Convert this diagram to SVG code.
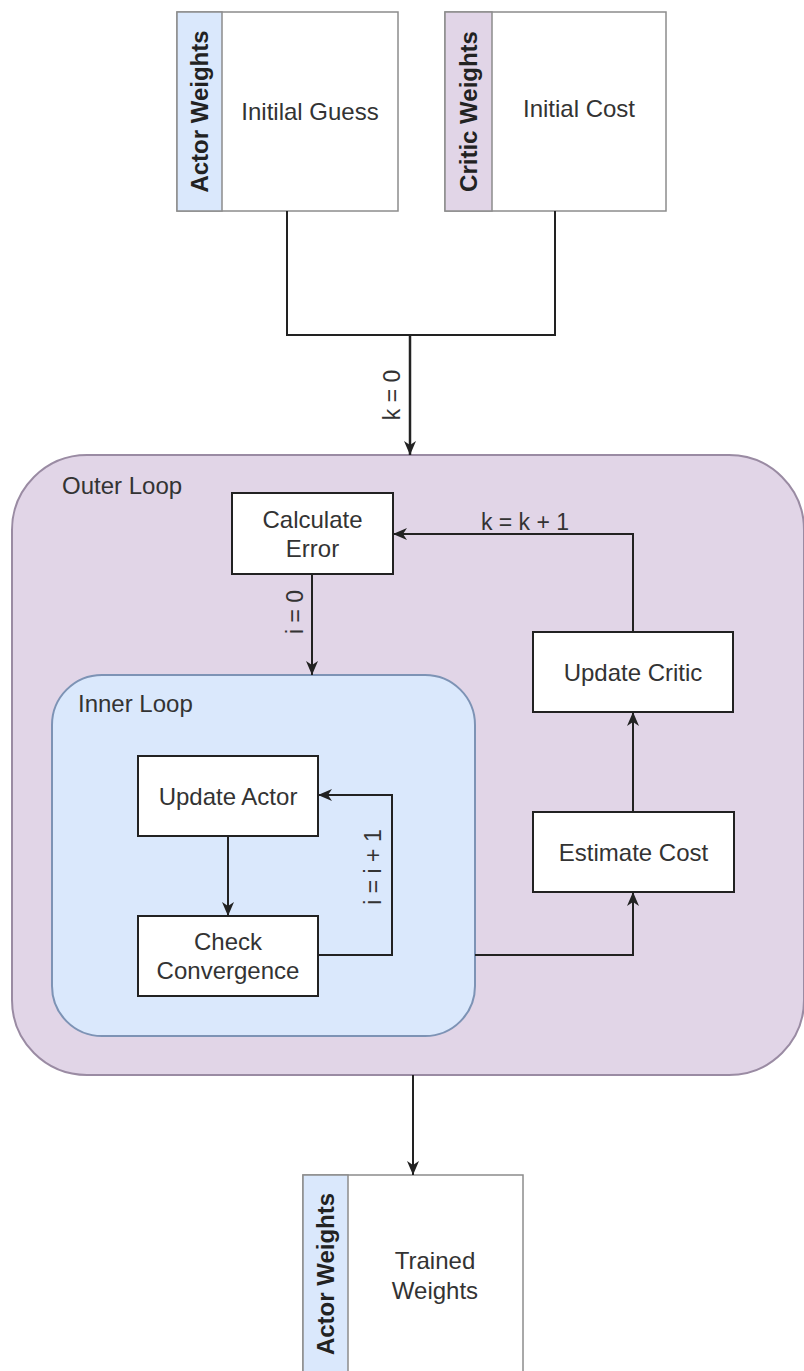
<svg xmlns="http://www.w3.org/2000/svg" width="804" height="1371" viewBox="0 0 804 1371">
<style>
text{font-family:"Liberation Sans",Arial,Helvetica,sans-serif;fill:#333;font-size:24px}
.c{text-anchor:middle;dominant-baseline:central}
.b{font-weight:bold;fill:#222}
.proc{fill:#fff;stroke:#222;stroke-width:2}
.frame{fill:#fff;stroke:#8c8c8c;stroke-width:1.5}
.actor{fill:#dae8fc;stroke:#8c8c8c;stroke-width:1.5}
.critic{fill:#e1d5e7;stroke:#8c8c8c;stroke-width:1.5}
.edge{fill:none;stroke:#222;stroke-width:2}
.lbl{font-size:23px}
</style>
<defs>
<marker id="arr" markerUnits="userSpaceOnUse" markerWidth="16" markerHeight="16" viewBox="0 0 16 16" refX="15" refY="8" orient="auto">
<path d="M1,2 L15,8 L1,14 L5,8 z" fill="#222"/>
</marker>
</defs>
<rect width="804" height="1371" fill="#fff"/>

<g id="outer-loop">
<rect x="12" y="455" width="792" height="620" rx="75" ry="75" fill="#e1d5e7" stroke="#9a8ba3" stroke-width="2"/>
<text x="62" y="485" style="dominant-baseline:central">Outer Loop</text>
</g>
<g id="inner-loop">
<rect x="52" y="675" width="423" height="361" rx="50" ry="50" fill="#dae8fc" stroke="#7d93b5" stroke-width="2"/>
<text x="78" y="703" style="dominant-baseline:central">Inner Loop</text>
</g>

<g id="actor-weights-initial">
<rect class="frame" x="177" y="12" width="221" height="199"/>
<rect class="actor" x="177" y="12" width="45" height="199"/>
<text class="c b" transform="translate(199.5,111.5) rotate(-90)">Actor Weights</text>
<text class="c" x="310" y="111.5">Initilal Guess</text>
</g>
<g id="critic-weights-initial">
<rect class="frame" x="445" y="12" width="221" height="199"/>
<rect class="critic" x="445" y="12" width="47" height="199"/>
<text class="c b" transform="translate(468.5,111.5) rotate(-90)">Critic Weights</text>
<text class="c" x="579" y="108">Initial Cost</text>
</g>

<g id="calculate-error">
<rect class="proc" x="232" y="493" width="161" height="81"/>
<text class="c" x="312.5" y="519">Calculate</text>
<text class="c" x="312.5" y="548">Error</text>
</g>
<g id="update-critic">
<rect class="proc" x="533" y="632" width="200" height="80"/>
<text class="c" x="633" y="672">Update Critic</text>
</g>
<g id="estimate-cost">
<rect class="proc" x="533" y="812" width="201" height="80"/>
<text class="c" x="633.5" y="852">Estimate Cost</text>
</g>
<g id="update-actor">
<rect class="proc" x="138" y="756" width="180" height="80"/>
<text class="c" x="228" y="796">Update Actor</text>
</g>
<g id="check-convergence">
<rect class="proc" x="138" y="916" width="180" height="80"/>
<text class="c" x="228" y="941">Check</text>
<text class="c" x="228" y="970">Convergence</text>
</g>

<g id="actor-weights-trained">
<rect class="frame" x="303" y="1175" width="220" height="199"/>
<rect class="actor" x="303" y="1175" width="45" height="199"/>
<text class="c b" transform="translate(325.5,1274) rotate(-90)">Actor Weights</text>
<text class="c" x="435" y="1260">Trained</text>
<text class="c" x="435" y="1290">Weights</text>
</g>

<g id="connectors">
<path class="edge" d="M287,211 V335 H555 V211"/>
<path class="edge" style="stroke-width:2.5" d="M410,335 V455" marker-end="url(#arr)"/>
<path class="edge" d="M312,574 V675" marker-end="url(#arr)"/>
<path class="edge" d="M633,632 V534 H393" marker-end="url(#arr)"/>
<path class="edge" d="M228,836 V916" marker-end="url(#arr)"/>
<path class="edge" d="M318,955 H392 V795 H318" marker-end="url(#arr)"/>
<path class="edge" d="M475,955 H633 V892" marker-end="url(#arr)"/>
<path class="edge" d="M633,812 V712" marker-end="url(#arr)"/>
<path class="edge" d="M413,1075 V1175" marker-end="url(#arr)"/>
<text class="c lbl" transform="translate(392,395) rotate(-90)">k = 0</text>
<text class="c lbl" transform="translate(295,612) rotate(-90)">i = 0</text>
<text class="c lbl" x="525" y="522">k = k + 1</text>
<text class="c lbl" transform="translate(373,867) rotate(-90)">i = i + 1</text>
</g>
</svg>
